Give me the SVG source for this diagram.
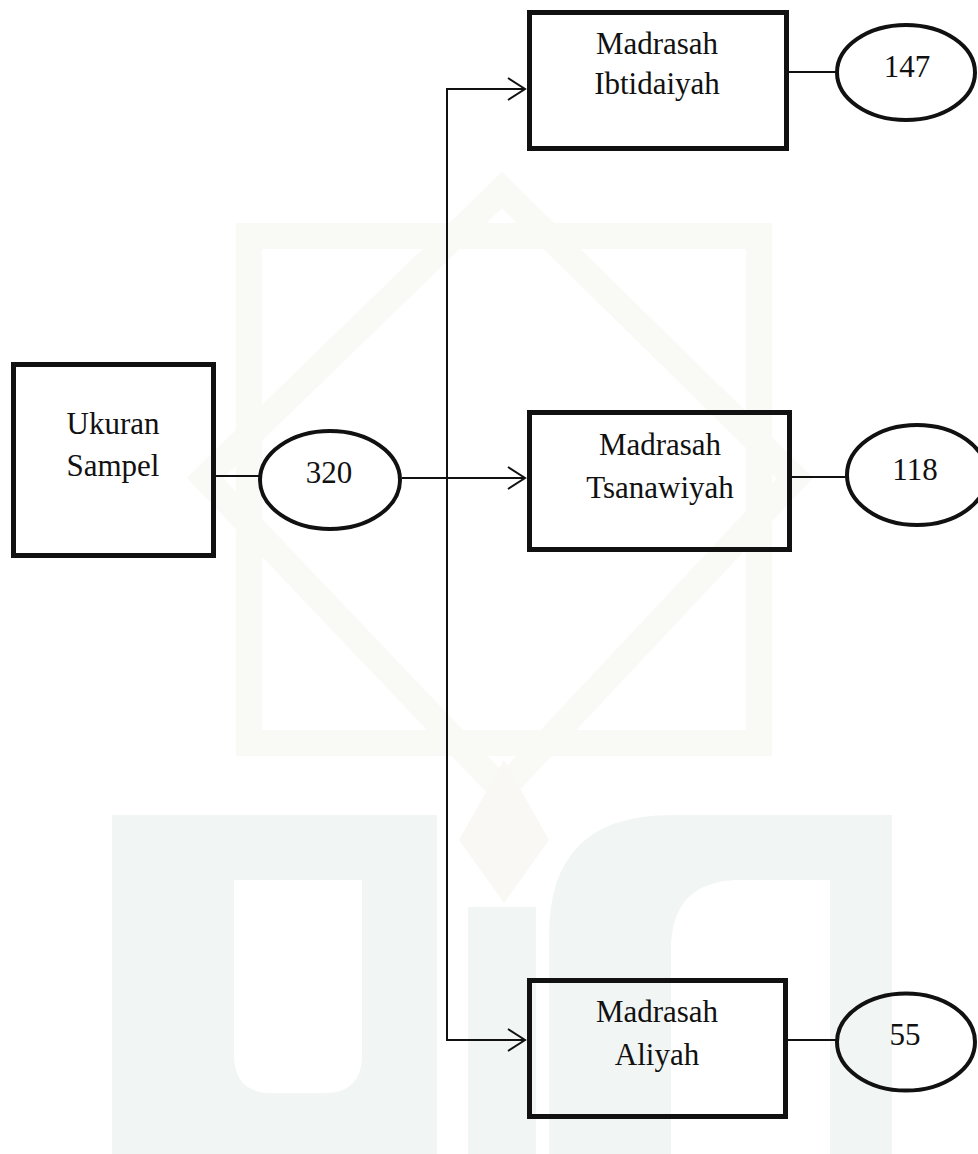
<svg xmlns="http://www.w3.org/2000/svg" width="978" height="1154" viewBox="0 0 978 1154">
  <style>
    .box { fill: none; stroke: #111; stroke-width: 5; }
    .oval { fill: none; stroke: #111; stroke-width: 4; }
    .conn { fill: none; stroke: #111; stroke-width: 2; }
    .lbl { font-family: "Liberation Serif", "Times New Roman", serif; font-size: 31px; fill: #111; text-anchor: middle; }
    .wm1 { fill: none; stroke: #f9f9f6; stroke-width: 26; }
    .wm2 { fill: #f1f6f4; }
  </style>
  <defs>
    <marker id="open" viewBox="-20 -13 22 26" refX="0" refY="0" markerWidth="22" markerHeight="26" markerUnits="userSpaceOnUse" orient="auto">
      <path d="M-17,-11 L0,0 L-17,11" fill="none" stroke="#111" stroke-width="2"/>
    </marker>
  </defs>
  <rect width="978" height="1154" fill="#ffffff"/>

  <g id="watermark">
    <rect class="wm1" x="249" y="236" width="510" height="507"/>
    <polygon class="wm1" points="502,190 795,478 502,790 205,478"/>
    <polygon points="504,760 549,840 504,903 459,840" fill="#f9f8f4"/>
    <path class="wm2" d="M112,815 H437 V1154 H112 Z M234,880 V1055 Q234,1093 272,1093 H324 Q362,1093 362,1055 V880 Z" fill-rule="evenodd"/>
    <rect class="wm2" x="468" y="907" width="68" height="247"/>
    <path class="wm2" d="M549,1154 V935 Q549,815 671,815 H892 V1154 Z M671,1154 V950 Q671,880 741,880 H830 V1154 Z" fill-rule="evenodd"/>
  </g>

  <g id="connectors">
    <line class="conn" x1="447" y1="88" x2="447" y2="1041"/>
    <line class="conn" x1="446" y1="89" x2="525" y2="89" marker-end="url(#open)"/>
    <line class="conn" x1="402" y1="478" x2="525" y2="478" marker-end="url(#open)"/>
    <line class="conn" x1="446" y1="1040" x2="525" y2="1040" marker-end="url(#open)"/>
    <line class="conn" x1="216" y1="476" x2="260" y2="476"/>
    <line class="conn" x1="789" y1="72" x2="837" y2="72"/>
    <line class="conn" x1="792" y1="477" x2="846" y2="477"/>
    <line class="conn" x1="788" y1="1040" x2="836" y2="1040"/>
  </g>

  <g id="ukuran-sampel">
    <rect class="box" x="13.5" y="364.5" width="200" height="191"/>
    <text class="lbl" x="113" y="434">Ukuran</text>
    <text class="lbl" x="113" y="476">Sampel</text>
  </g>

  <g id="n320">
    <ellipse class="oval" cx="330" cy="480" rx="70" ry="49"/>
    <text class="lbl" x="329" y="483">320</text>
  </g>

  <g id="ibtidaiyah">
    <rect class="box" x="529.5" y="12.5" width="257" height="136"/>
    <text class="lbl" x="657" y="54">Madrasah</text>
    <text class="lbl" x="657" y="94">Ibtidaiyah</text>
  </g>

  <g id="n147">
    <ellipse class="oval" cx="906" cy="72.5" rx="69" ry="47.5"/>
    <text class="lbl" x="907" y="77">147</text>
  </g>

  <g id="tsanawiyah">
    <rect class="box" x="529.5" y="412.5" width="260" height="137"/>
    <text class="lbl" x="660" y="455">Madrasah</text>
    <text class="lbl" x="660" y="498">Tsanawiyah</text>
  </g>

  <g id="n118">
    <ellipse class="oval" cx="917" cy="475" rx="70" ry="50"/>
    <text class="lbl" x="915" y="480">118</text>
  </g>

  <g id="aliyah">
    <rect class="box" x="529.5" y="980.5" width="256" height="136"/>
    <text class="lbl" x="657" y="1022">Madrasah</text>
    <text class="lbl" x="657" y="1065">Aliyah</text>
  </g>

  <g id="n55">
    <ellipse class="oval" cx="906" cy="1042" rx="69" ry="48.5"/>
    <text class="lbl" x="905" y="1045">55</text>
  </g>
</svg>
